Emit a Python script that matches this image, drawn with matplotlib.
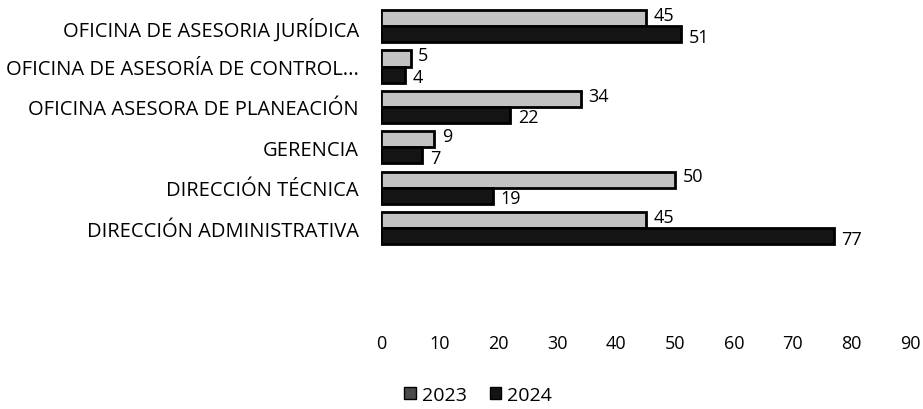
import matplotlib
matplotlib.use("Agg")
import matplotlib.pyplot as plt
from matplotlib.patches import Patch
import numpy as np

# Data (top to bottom as shown)
categories = [
    "OFICINA DE ASESORIA JURÍDICA",
    "OFICINA DE ASESORÍA DE CONTROL...",
    "OFICINA ASESORA DE PLANEACIÓN",
    "GERENCIA",
    "DIRECCIÓN TÉCNICA",
    "DIRECCIÓN ADMINISTRATIVA",
]
values_2023 = [45, 5, 34, 9, 50, 45]
values_2024 = [51, 4, 22, 7, 19, 77]
x_ticks = [0, 10, 20, 30, 40, 50, 60, 70, 80, 90]

plt.rcParams["font.family"] = ["Open Sans", "DejaVu Sans"]

fig = plt.figure(figsize=(9.23, 4.10), dpi=100)
ax = fig.add_axes([0.413, 0.392, 0.573, 0.591])

y = np.arange(len(categories))
h = 0.4
c23 = "#c2c2c2"
c24 = "#141414"

ax.barh(y - h / 2, values_2023, height=h, color=c23, edgecolor="black", linewidth=2)
ax.barh(y + h / 2, values_2024, height=h, color=c24, edgecolor="black", linewidth=2)

for yi, v in zip(y, values_2023):
    ax.text(v + 1.3, yi - h / 2 - 0.08, str(v), va="center", ha="left", fontsize=13)
for yi, v in zip(y, values_2024):
    ax.text(v + 1.3, yi + h / 2 + 0.06, str(v), va="center", ha="left", fontsize=13)

ax.set_xlim(0, 90)
ax.set_ylim(len(categories) - 0.5, -0.5)
ax.set_xticks(x_ticks)
ax.set_yticks(y)
ax.set_yticklabels(categories, fontsize=14.5)
ax.tick_params(axis="x", length=0, pad=62, labelsize=13)
ax.tick_params(axis="y", length=0, pad=16)
for s in ax.spines.values():
    s.set_visible(False)

handles = [Patch(facecolor="#4a4a4a", edgecolor="black"), Patch(facecolor=c24, edgecolor="black")]
fig.legend(handles, ["2023", "2024"], loc="center", bbox_to_anchor=(0.518, 0.035), ncol=2,
           frameon=False, fontsize=14, handlelength=0.6, handleheight=0.6,
           handletextpad=0.3, columnspacing=1.2, borderpad=0.1)

fig.savefig("out.png", dpi=100)
